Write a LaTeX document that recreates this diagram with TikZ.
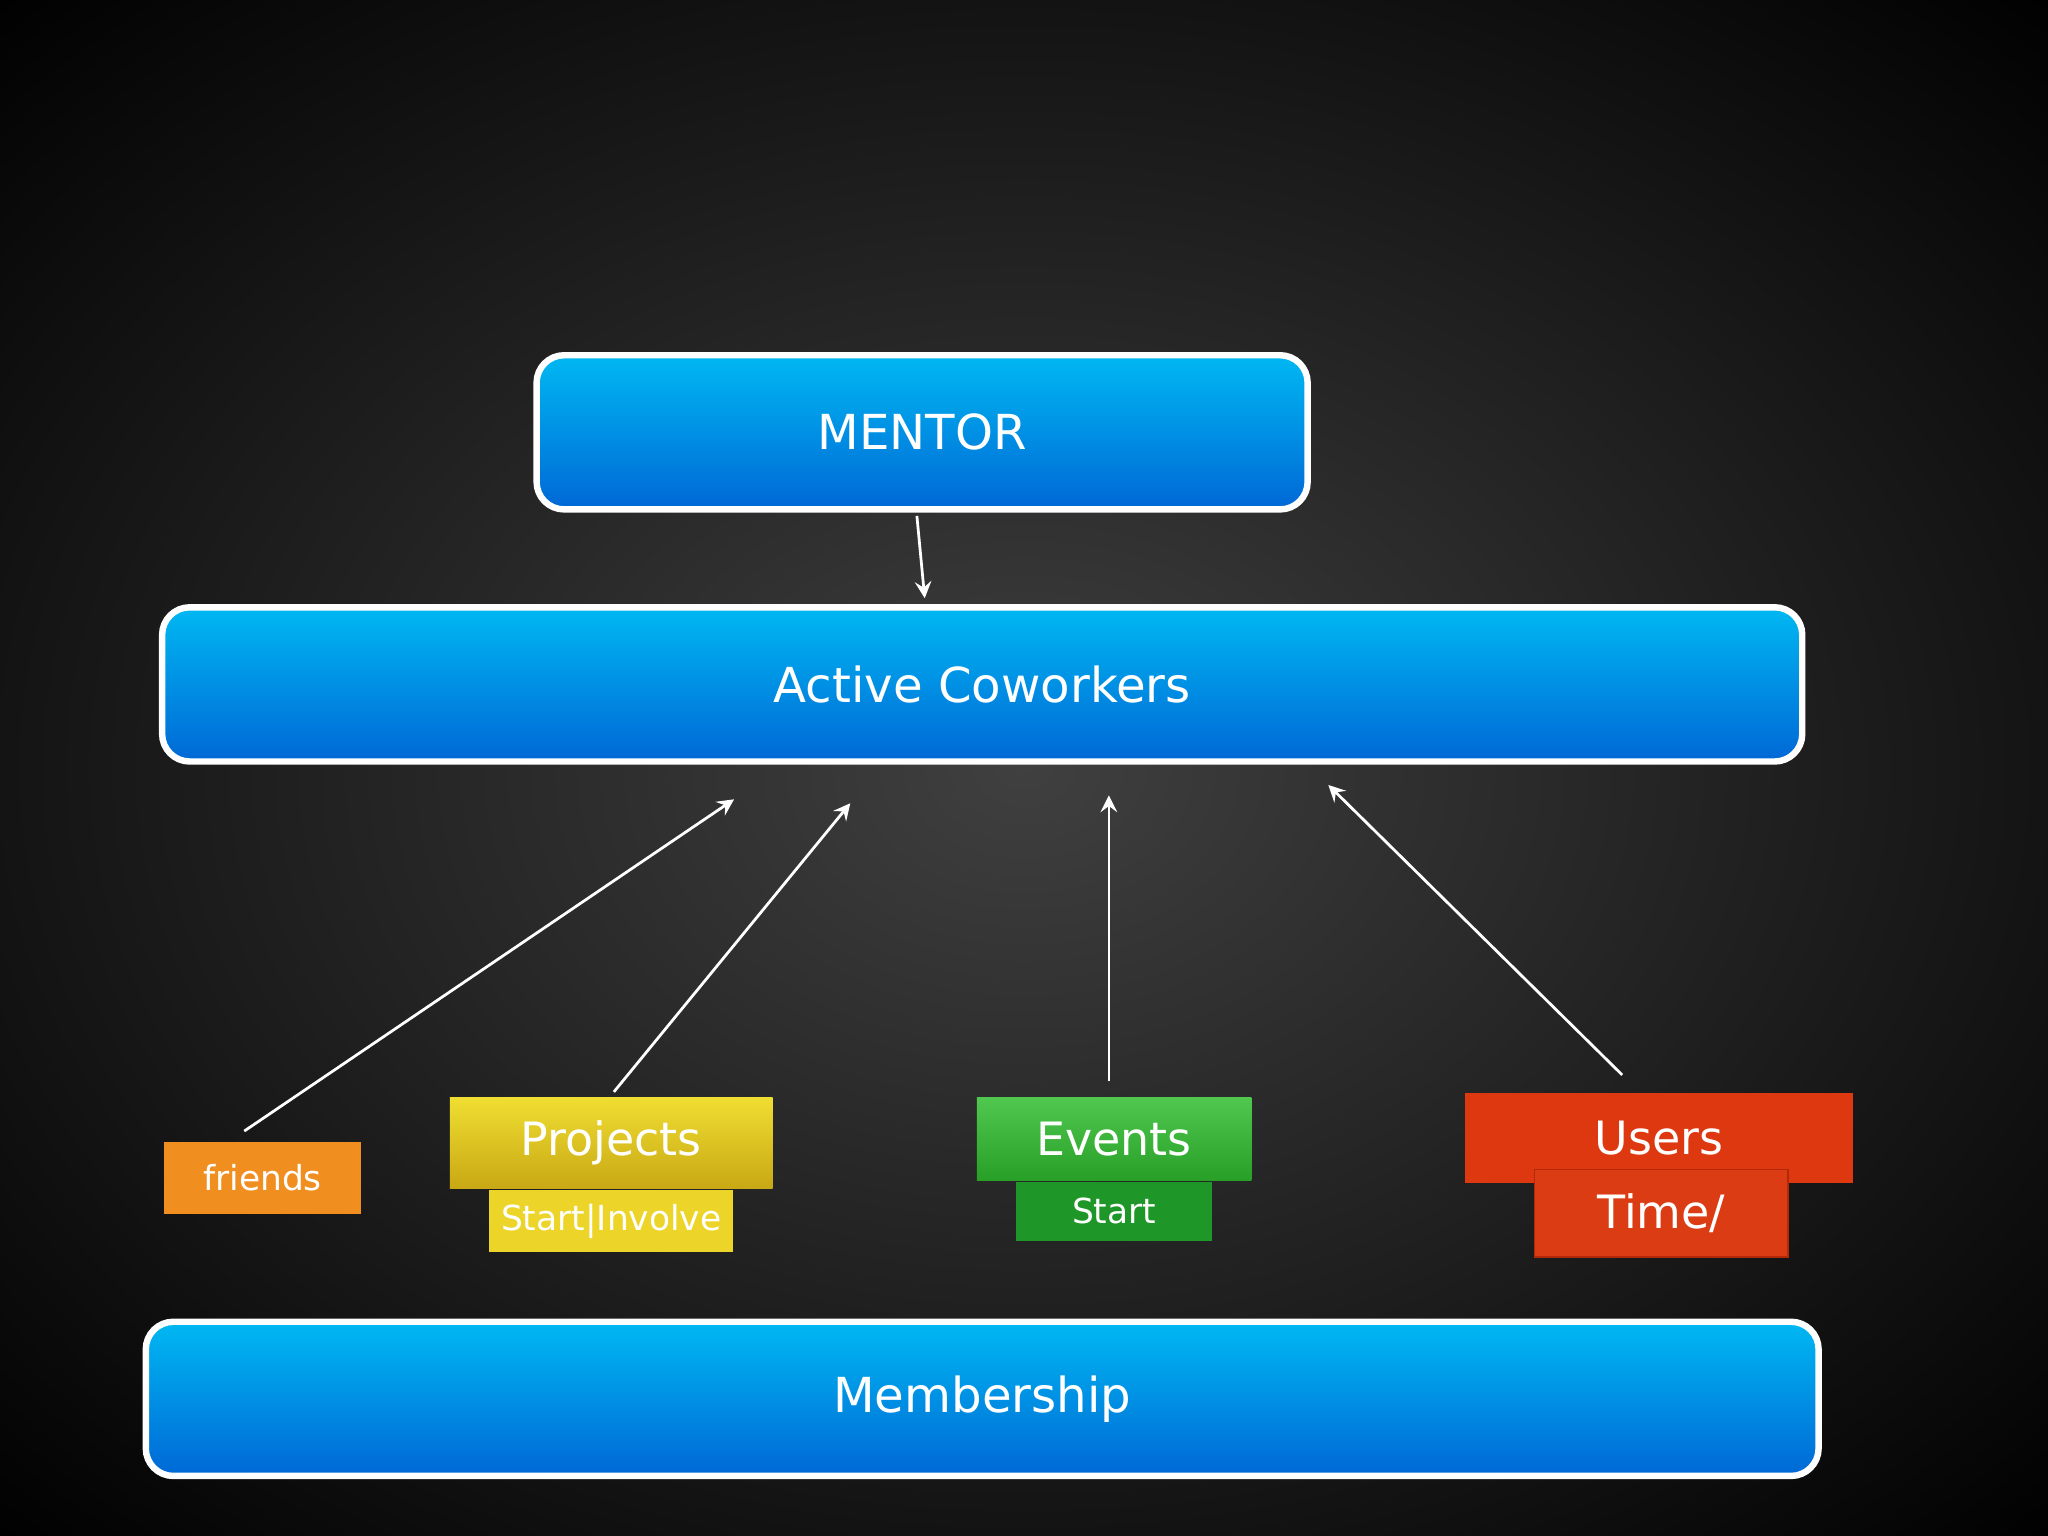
\documentclass[tikz,border=0pt]{standalone}
\usepackage{fontspec}
\setmainfont{DejaVu Sans}
\usetikzlibrary{shadings}
\definecolor{btop}{HTML}{00B8F2}
\definecolor{bbot}{HTML}{0068D6}
\begin{document}
\begin{tikzpicture}[x=0.01cm,y=-0.01cm,
  bigbox/.style={draw=white,line width=1.4pt,rounded corners=6pt,top color=btop,bottom color=bbot,text=white,font=\fontsize{10.5}{12}\selectfont},
  tag/.style={text=white,inner sep=0pt},
  arr/.style={white,line width=0.6pt,-{stealth}}]
\useasboundingbox (0,0) rectangle (1568,1176);
\begin{scope}
\clip (0,0) rectangle (1568,1176);
\fill[black] (0,0) rectangle (1568,1176);
\shade[inner color=black!75,outer color=black] (-350,-250) rectangle (1918,1426);
\end{scope}
% big boxes
\node[bigbox,minimum width=5.9cm,minimum height=1.18cm] (mentor) at (706,331) {MENTOR};
\node[bigbox,minimum width=12.55cm,minimum height=1.18cm] (active) at (752,524) {Active Coworkers};
\node[bigbox,minimum width=12.8cm,minimum height=1.18cm] (member) at (752,1071) {Membership};
% friends
\node[tag,fill={rgb,255:red,240;green,142;blue,32},minimum width=1.51cm,minimum height=0.55cm,font=\fontsize{7.5}{9}\selectfont] (friends) at (201,902) {friends};
% projects
\node[tag,top color={rgb,255:red,240;green,222;blue,50},bottom color={rgb,255:red,200;green,168;blue,20},minimum width=2.47cm,minimum height=0.7cm,font=\fontsize{10}{12}\selectfont] (projects) at (468,875) {Projects};
\node[tag,fill={rgb,255:red,236;green,212;blue,40},minimum width=1.87cm,minimum height=0.47cm,font=\fontsize{7.5}{9}\selectfont,anchor=north] (projsub) at (projects.south) {Start|Involve};
% events
\node[tag,top color={rgb,255:red,80;green,200;blue,80},bottom color={rgb,255:red,40;green,160;blue,40},minimum width=2.1cm,minimum height=0.63cm,font=\fontsize{10}{12}\selectfont] (events) at (853,872) {Events};
\node[tag,fill={rgb,255:red,30;green,150;blue,40},minimum width=1.5cm,minimum height=0.45cm,font=\fontsize{7.5}{9}\selectfont,anchor=north] (evsub) at (events.south) {Start};
% users
\node[tag,fill={rgb,255:red,222;green,56;blue,16},minimum width=2.97cm,minimum height=0.69cm,font=\fontsize{10}{12}\selectfont] (users) at (1270,871) {Users};
\node[tag,fill={rgb,255:red,220;green,60;blue,20},minimum width=1.94cm,minimum height=0.67cm,font=\fontsize{10}{12}\selectfont,draw={rgb,255:red,180;green,40;blue,10},line width=0.3pt] (time) at (1272,929) {Time/};
% arrows
\coordinate (a1) at (562,612);
\coordinate (a2) at (651,615);
\coordinate (a3) at (849,609);
\coordinate (a4) at (1017,601);
\coordinate (m1) at (702,395);
\coordinate (m2) at (708,458);
\coordinate (f0) at (187,866);
\coordinate (p0) at (470,836);
\coordinate (e0) at (849,828);
\coordinate (u0) at (1242,823);
\draw[arr] (m1) -- (m2);
\draw[arr] (f0) -- (a1);
\draw[arr] (p0) -- (a2);
\draw[arr] (e0) -- (a3);
\draw[arr] (u0) -- (a4);
\end{tikzpicture}
\end{document}
